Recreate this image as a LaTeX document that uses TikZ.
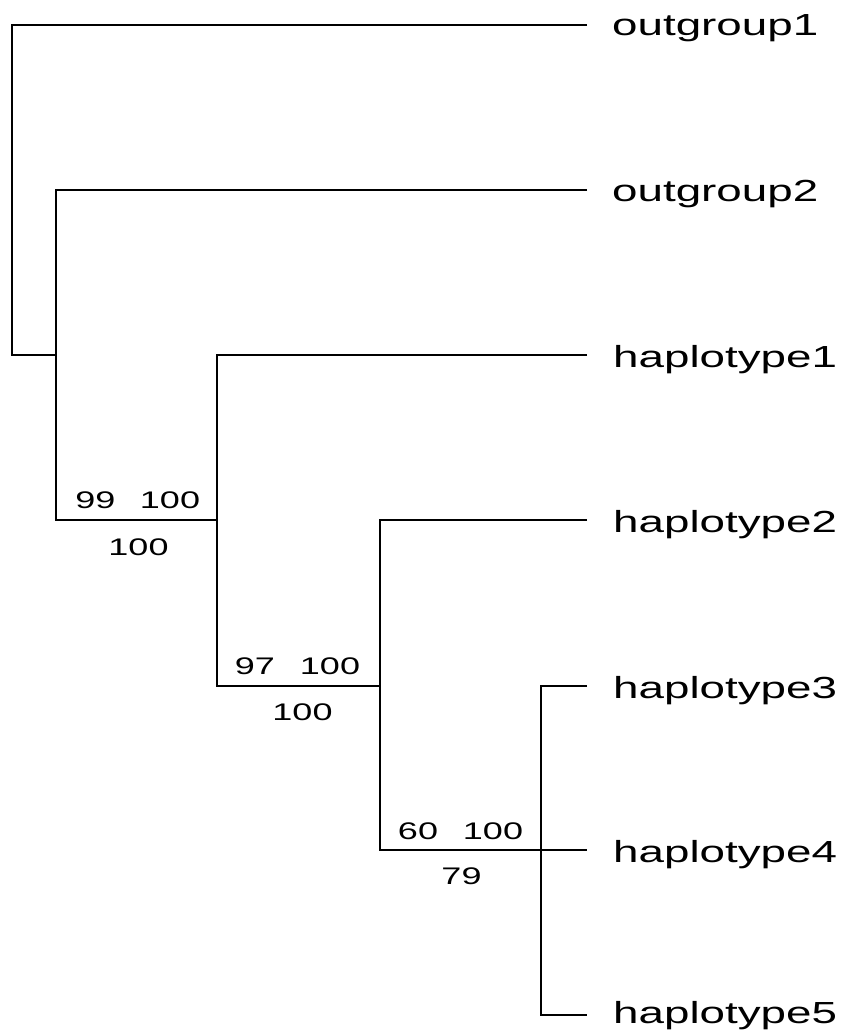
\documentclass[tikz,border=0pt]{standalone}
\usepackage{fontspec}
\newfontfamily\leaffont[FakeStretch=1.5]{Liberation Sans}
\begin{document}
\begin{tikzpicture}[x=1pt,y=-1pt,
  branch/.style={line width=2.1pt,black},
  leaf/.style={anchor=base west,inner sep=0pt,font=\leaffont\fontsize{30.5}{34}\selectfont},
  sup/.style={anchor=base,inner sep=0pt,font=\leaffont\fontsize{24}{28}\selectfont}]
\useasboundingbox (0,0) rectangle (842,1030);
% internal nodes
\coordinate (nR) at (12,190);
\coordinate (nA) at (56,355);
\coordinate (nB) at (217,520);
\coordinate (nC) at (380,686);
\coordinate (nD) at (541,850);
% tips
\coordinate (t1) at (587,25);
\coordinate (t2) at (587,190);
\coordinate (t3) at (587,355);
\coordinate (t4) at (587,520);
\coordinate (t5) at (587,686);
\coordinate (t6) at (587,850);
\coordinate (t7) at (587,1015);
% branches
\draw[branch] (t1) -| (nR) |- (nA);
\draw[branch] (t2) -| (nA) |- (nB);
\draw[branch] (t3) -| (nB) |- (nC);
\draw[branch] (t4) -| (nC) |- (nD);
\draw[branch] (t5) -| (nD) |- (t7);
\draw[branch] (nD) -- (t6);
% leaf labels
\node[leaf] (L1) at ([xshift=25,yshift=-11]t1) {outgroup1};
\node[leaf] (L2) at ([xshift=25,yshift=-11]t2) {outgroup2};
\node[leaf] (L3) at ([xshift=26,yshift=-12]t3) {haplotype1};
\node[leaf] (L4) at ([xshift=26,yshift=-12]t4) {haplotype2};
\node[leaf] (L5) at ([xshift=26,yshift=-12]t5) {haplotype3};
\node[leaf] (L6) at ([xshift=26,yshift=-12]t6) {haplotype4};
\node[leaf] (L7) at ([xshift=26,yshift=-8]t7) {haplotype5};
% support values
\node[sup] (sB1) at (95.5,508.5) {99};
\node[sup] (sB2) at (170,508.5) {100};
\node[sup] (sB3) at (138.5,555.5) {100};
\node[sup] (sC1) at (255,674.5) {97};
\node[sup] (sC2) at (330,674.5) {100};
\node[sup] (sC3) at (302.5,720.5) {100};
\node[sup] (sD1) at (418,839.5) {60};
\node[sup] (sD2) at (493,839.5) {100};
\node[sup] (sD3) at (461.5,884.5) {79};
\end{tikzpicture}
\end{document}
